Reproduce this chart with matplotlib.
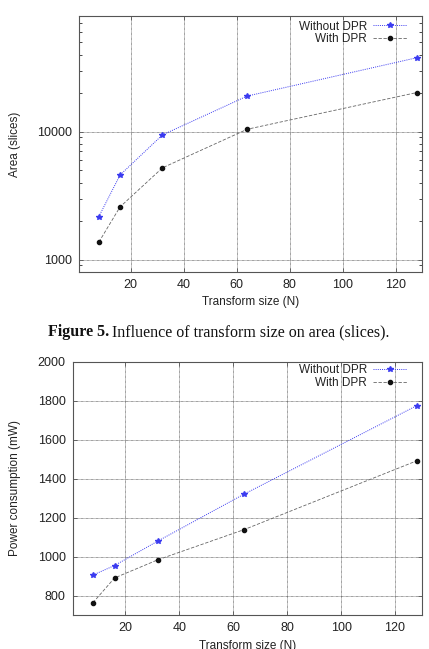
import matplotlib
matplotlib.use("Agg")
import matplotlib.pyplot as plt
from matplotlib.ticker import LogLocator, FixedLocator, NullFormatter

# transform sizes and measured values
sizes = [8, 16, 32, 64, 128]
area_without = [2170, 4580, 9420, 18950, 37750]
area_with = [1370, 2580, 5210, 10430, 20180]
power_without = [905, 954, 1079, 1320, 1774]
power_with = [763, 890, 983, 1138, 1491]
x_ticks = [20, 40, 60, 80, 100, 120]
area_ticks = [1000, 10000]
power_ticks = [800, 1000, 1200, 1400, 1600, 1800, 2000]

BLUE = "#3b3bf0"; BLACK = "#111111"; INK = "#222222"
SANS = ["Liberation Sans", "DejaVu Sans"]
SERIF = ["Liberation Serif", "DejaVu Serif"]

plt.rcParams.update({"font.family": SANS, "font.size": 9,
                     "axes.linewidth": 0.8, "axes.edgecolor": "#555555"})


def style(ax, label_x):
    ax.tick_params(direction="in", top=True, right=True, length=3, width=0.6,
                   colors="#555555", labelcolor=INK, labelsize=9, pad=5)
    ax.tick_params(which="minor", direction="in", left=True, right=True, length=2, width=0.5)
    ax.grid(True, which="major", color="#444444", ls=(0, (1, 0.8)), lw=0.5)
    ax.set_axisbelow(True)
    ax.yaxis.set_label_coords(label_x, 0.5)


def series(ax, ys_without, ys_with, anchor):
    ax.plot(sizes, ys_without, ls=(0, (1, 1.2)), lw=0.7, color=BLUE, marker="*",
            ms=4, mec=BLUE, mfc=BLUE, label="Without DPR")
    ax.plot(sizes, ys_with, ls=(0, (4, 2)), lw=0.6, color="#666666", marker="o",
            ms=3, mec=BLACK, mfc=BLACK, label="With DPR")
    ax.legend(loc="upper right", bbox_to_anchor=anchor, markerfirst=False, frameon=False,
              fontsize=8.5, handlelength=2.9, handletextpad=0.5, labelspacing=0.05,
              borderaxespad=0, borderpad=0, labelcolor=INK)


fig = plt.figure(figsize=(4.29, 6.49), dpi=100)

# area plot (log scale)
ax1 = fig.add_axes([79 / 429, 1 - 272 / 649, 343 / 429, 256 / 649])
series(ax1, area_without, area_with, (0.956, 0.982))
ax1.set_yscale("log")
ax1.set_xlim(0.5, 130)
ax1.set_ylim(800, 80000)
ax1.xaxis.set_major_locator(FixedLocator(x_ticks))
ax1.yaxis.set_major_locator(FixedLocator(area_ticks))
ax1.yaxis.set_major_formatter(plt.FuncFormatter(lambda v, p: f"{int(v)}"))
ax1.yaxis.set_minor_locator(LogLocator(base=10, subs=range(2, 10)))
ax1.yaxis.set_minor_formatter(NullFormatter())
ax1.set_xlabel("Transform size (N)", fontsize=8.5, color=INK, labelpad=4)
ax1.set_ylabel("Area (slices)", fontsize=8.5, color=INK)
style(ax1, (21 - 79) / 343)

# caption between the two plots
cap_y = 1 - 332 / 649
fig.text(48 / 429, cap_y, "Figure 5.", ha="left", va="center", fontsize=11.5,
         family=SERIF, weight="bold", color="#111111")
fig.text(389 / 429, cap_y, "Influence of transform size on area (slices).",
         ha="right", va="center", fontsize=11.5, family=SERIF, color="#111111")

# power plot
ax2 = fig.add_axes([72.7 / 429, 1 - 615 / 649, 349.3 / 429, 253.3 / 649])
series(ax2, power_without, power_with, (0.957, 0.99))
ax2.set_xlim(0.5, 130)
ax2.set_ylim(700, 2000)
ax2.xaxis.set_major_locator(FixedLocator(x_ticks))
ax2.yaxis.set_major_locator(FixedLocator(power_ticks))
ax2.set_xlabel("Transform size (N)", fontsize=8.5, color=INK, labelpad=4)
ax2.set_ylabel("Power consumption (mW)", fontsize=8.5, color=INK)
style(ax2, (21 - 72.7) / 349.3)

fig.savefig("out.png", dpi=100)
